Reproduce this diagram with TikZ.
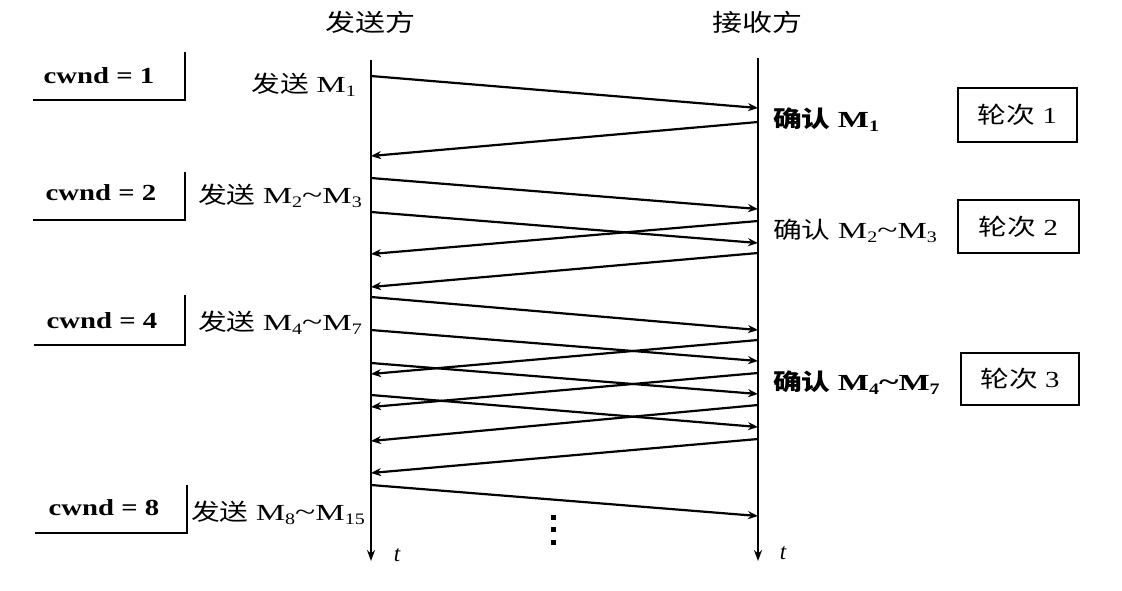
\documentclass[tikz,border=0pt]{standalone}
\usepackage{fontspec}
\setmainfont{Liberation Serif}
\newfontfamily\cjk{Noto Sans CJK SC}
\usetikzlibrary{arrows.meta}
\newcommand\hx[1]{\scalebox{1.25}[1]{#1}}
\newcommand\Mx[1]{\scalebox{1.15}[1]{M}\raisebox{-0.4ex}{\fontsize{16}{16}\selectfont #1}}
\newcommand\tld{\raisebox{-0.05ex}{\scalebox{1.3}[1.1]{\textasciitilde}}}
\begin{document}
\begin{tikzpicture}[x=1pt,y=-1pt,
  txt/.style={font=\fontsize{23}{27}\selectfont, inner sep=0pt},
  btxt/.style={font=\bfseries\fontsize{23}{27}\selectfont, inner sep=0pt},
  head/.style={font=\cjk\fontsize{24}{28}\selectfont, inner sep=0pt},
  msg/.style={line width=2.2pt, -{Stealth[length=10pt,width=8pt]}},
  life/.style={line width=2.4pt, -{Stealth[length=11pt,width=8pt]}},
  rbox/.style={draw, line width=2pt, minimum width=119pt, minimum height=54pt, inner sep=0pt, font=\fontsize{23}{27}\selectfont},
  lshape/.style={line width=2.2pt}]
\useasboundingbox (0,0) rectangle (1122,590);

% headers
\node[head] (hS) at (370,22) {\hx{发送方}};
\node[head] (hR) at (757,22) {\hx{接收方}};

% lifelines
\coordinate (Stop) at (371,60); \coordinate (Sbot) at (371,561);
\coordinate (Rtop) at (758,58); \coordinate (Rbot) at (758,561);
\draw[life] (Stop) -- (Sbot);
\draw[life] (Rtop) -- (Rbot);

% data segments
\foreach \i/\a/\b in {1/76/108, 2/178/209, 3/212/243, 4/297/330, 5/330/361, 6/363/394, 7/395/427, 8/485/516} {
  \coordinate (s\i) at (371,\a); \coordinate (r\i) at (758,\b);
  \draw[msg] (s\i) -- (r\i);
}
% acknowledgements
\foreach \i/\a/\b in {1/122/156, 2/221/254, 3/253/287, 4/340/374, 5/373/407, 6/405/441, 7/439/473} {
  \coordinate (ar\i) at (758,\a); \coordinate (as\i) at (371,\b);
  \draw[msg] (ar\i) -- (as\i);
}

% cwnd labels
\node[btxt] (c1) at (99,76) {\hx{cwnd = 1}};
\node[btxt] (c2) at (101,193) {\hx{cwnd = 2}};
\node[btxt] (c3) at (102,321) {\hx{cwnd = 4}};
\node[btxt] (c4) at (104,508) {\hx{cwnd = 8}};
\coordinate (c1a) at (33,100); \coordinate (c1b) at (185,52);
\coordinate (c2a) at (33,220); \coordinate (c2b) at (185,172);
\coordinate (c3a) at (34,345); \coordinate (c3b) at (185,295);
\coordinate (c4a) at (35,533); \coordinate (c4b) at (187,485);
\draw[lshape] (c1a) -| (c1b);
\draw[lshape] (c2a) -| (c2b);
\draw[lshape] (c3a) -| (c3b);
\draw[lshape] (c4a) -| (c4b);

% send labels
\node[txt, anchor=base east] (l1) at (356,92) {\hx{{\cjk 发送} \Mx{1}}};
\node[txt, anchor=base east] (l2) at (362,203) {\hx{{\cjk 发送} \Mx{2}\tld\Mx{3}}};
\node[txt, anchor=base east] (l3) at (362,330) {\hx{{\cjk 发送} \Mx{4}\tld\Mx{7}}};
\node[txt, anchor=base east] (l4) at (365,520) {\hx{{\cjk 发送} \Mx{8}\tld\Mx{15}}};

% ack labels
\node[btxt, anchor=base west] (a1) at (773,127) {\hx{{\cjk 确认} \Mx{1}}};
\node[txt, anchor=base west] (a2) at (773,238) {\hx{{\cjk 确认} \Mx{2}\tld\Mx{3}}};
\node[btxt, anchor=base west] (a3) at (773,390) {\hx{{\cjk 确认} \Mx{4}\tld\Mx{7}}};

% round boxes
\node[rbox] (b1) at (1017.5,115) {\hx{{\cjk 轮次} 1}};
\node[rbox, line width=1.2pt, minimum width=121pt, minimum height=53pt] (b2) at (1018.5,226.5) {\hx{{\cjk 轮次} 2}};
\node[rbox, minimum width=118pt, minimum height=52pt] (b3) at (1020,379) {\hx{{\cjk 轮次} 3}};

% continuation dots
\foreach \y in {517,529,542} \fill (550.5,\y-2.5) rectangle ++(5,5);

% time labels
\node[txt, font=\itshape\fontsize{23}{27}\selectfont] (t1) at (397,555) {t};
\node[txt, font=\itshape\fontsize{23}{27}\selectfont] (t2) at (783,553) {t};
\end{tikzpicture}
\end{document}
